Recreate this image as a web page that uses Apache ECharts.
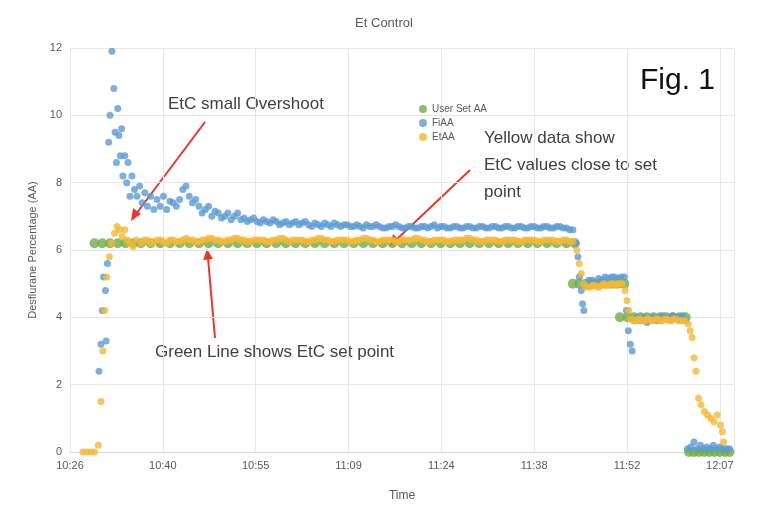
<!DOCTYPE html>
<html><head><meta charset="utf-8">
<script src="https://cdn.jsdelivr.net/npm/echarts@6/dist/echarts.min.js"></script>
<style>html,body{margin:0;background:#fff}#c{width:768px;height:524px}</style>
</head><body><div id="c"></div>
<script>
// x = minutes after 10:26
const START_MIN = 626;
const xTickStep = 14.4;
const yTicks = [0,2,4,6,8,10,12];
const userSetAA = [[3.8,6.2],[5,6.2],[6.2,6.2],[7.4,6.2],[8.6,6.2],[9.8,6.2],[11,6.2],[12.5,6.2],[14,6.2],[15.5,6.2],[17,6.2],[18.5,6.2],[20,6.2],[21.5,6.2],[23,6.2],[24.5,6.2],[26,6.2],[27.5,6.2],[29,6.2],[30.5,6.2],[32,6.2],[33.5,6.2],[35,6.2],[36.5,6.2],[38,6.2],[39.5,6.2],[41,6.2],[42.5,6.2],[44,6.2],[45.5,6.2],[47,6.2],[48.5,6.2],[50,6.2],[51.5,6.2],[53,6.2],[54.5,6.2],[56,6.2],[57.5,6.2],[59,6.2],[60.5,6.2],[62,6.2],[63.5,6.2],[65,6.2],[66.5,6.2],[68,6.2],[69.5,6.2],[71,6.2],[72.5,6.2],[74,6.2],[75.5,6.2],[77,6.2],[78.3,6.2],
 [78,5.0],[79,5.0],[80,5.0],[81,5.0],[82,5.0],[83,5.0],[84,5.0],[85,5.0],[86,5.0],
 [85.3,4.0],[86.5,4.0],[87.5,4.0],[88.5,4.0],[89.5,4.0],[90.5,4.0],[91.5,4.0],[92.5,4.0],[93.5,4.0],[94.5,4.0],[95.5,4.0],
 [96,0],[96.8,0],[97.6,0],[98.4,0],[99.2,0],[100,0],[100.8,0],[101.6,0],[102.3,0]];
const fiAA = [[4.5,2.4],[4.8,3.2],[5,4.2],[5.2,5.2],[5.5,4.8],[5.8,5.6],[5.6,3.3],[6,9.2],[6.2,10],[6.5,11.9],[6.8,10.8],[7,9.5],[7.2,8.6],[7.4,10.2],[7.6,9.4],[7.8,8.8],[8,9.6],[8.2,8.2],[8.5,8.8],[8.8,8.0],[9,8.6],[9.3,7.6],[9.6,8.2],[10,7.8],[10.4,7.6],[10.8,7.9],[11.2,7.4],[11.6,7.7],[12,7.3],[12.5,7.6],[13,7.2],[13.5,7.5],[14,7.3],[14.5,7.6],[15,7.2],[15.5,7.45],[16,7.4],[16.5,7.3],[17,7.5],[17.5,7.8],[18,7.9],[18.5,7.6],[19,7.4],[19.5,7.5],[20,7.3],[20.5,7.1],[21,7.2],[21.5,7.3],[22,7.0],[22.5,7.15],[23,7.1],[23.5,6.95],[24,7.0],[24.5,7.1],[25,6.9],[25.5,7.0],[26,7.1],[26.5,6.9],[27,6.95],[27.5,6.85],[28,6.9],[28.5,6.95],[29,6.85],[29.5,6.8],[30,6.9],[30.5,6.85],[31,6.8],[31.5,6.9],[32,6.85],[32.5,6.75],[33,6.8],[33.5,6.85],[34,6.75],[34.5,6.8],[35,6.85],[35.5,6.75],[36,6.8],[36.5,6.85],[37,6.75],[37.5,6.7],[38,6.8],[38.5,6.75],[39,6.7],[39.5,6.8],[40,6.75],[40.5,6.7],[41,6.8],[41.5,6.75],[42,6.7],[42.5,6.75],[43,6.75],[43.5,6.7],[44,6.7],[44.5,6.75],[45,6.7],[45.5,6.65],[46,6.75],[46.5,6.7],[47,6.7],[47.5,6.75],[48,6.7],[48.5,6.65],[49,6.65],[49.5,6.7],[50,6.7],[50.5,6.75],[51,6.7],[51.5,6.65],[52,6.65],[52.5,6.7],[53,6.7],[53.5,6.65],[54,6.65],[54.5,6.7],[55,6.7],[55.5,6.65],[56,6.7],[56.5,6.75],[57,6.65],[57.5,6.7],[58,6.7],[58.5,6.65],[59,6.65],[59.5,6.7],[60,6.7],[60.5,6.65],[61,6.65],[61.5,6.7],[62,6.7],[62.5,6.65],[63,6.65],[63.5,6.7],[64,6.7],[64.5,6.65],[65,6.65],[65.5,6.7],[66,6.7],[66.5,6.65],[67,6.65],[67.5,6.7],[68,6.7],[68.5,6.65],[69,6.65],[69.5,6.7],[70,6.7],[70.5,6.65],[71,6.65],[71.5,6.7],[72,6.7],[72.5,6.65],[73,6.65],[73.5,6.7],[74,6.7],[74.5,6.65],[75,6.65],[75.5,6.7],[76,6.7],[76.5,6.65],[77,6.65],[77.5,6.6],[78,6.6],
 [78.5,6.2],[78.8,5.8],[79,5.2],[79.3,4.8],[79.5,4.4],[79.7,4.2],[80,5.0],[80.5,5.1],[81,5.1],[81.5,5.05],[82,5.15],[82.5,5.1],[83,5.2],[83.5,5.15],[84,5.2],[84.5,5.2],[85,5.15],[85.5,5.2],[86,5.2],
 [86.3,4.2],[86.6,3.6],[86.9,3.2],[87.2,3.0],[87.5,3.9],[88,4.0],[88.5,3.9],[89,4.0],[89.5,3.85],[90,3.95],[90.5,4.0],[91,3.9],[91.5,4.0],[92,4.05],[92.5,3.95],[93,4.0],[93.5,4.05],[94,4.0],[94.5,4.0],[95,4.05],[95.5,3.9],
 [95.8,0.1],[96.3,0.15],[96.8,0.3],[97.3,0.1],[97.8,0.2],[98.3,0.1],[98.8,0.15],[99.3,0.1],[99.8,0.2],[100.3,0.1],[100.8,0.15],[101.3,0.1],[101.8,0.1],[102.3,0.1]];
const etAA = [[2,0],[2.6,0],[3.2,0],[3.8,0],[4.4,0.2],[4.8,1.5],[5.1,3],[5.4,4.2],[5.7,5.2],[6.1,5.8],[6.5,6.2],[6.9,6.5],[7.3,6.7],[7.7,6.6],[8.1,6.4],[8.5,6.6],[8.9,6.3],[9.3,6.2],[9.8,6.1],[10.3,6.3],[11,6.2],[11.5,6.3],[12,6.3],[12.5,6.2],[13,6.25],[13.5,6.3],[14,6.3],[14.5,6.25],[15,6.2],[15.5,6.3],[16,6.3],[16.5,6.25],[17,6.25],[17.5,6.3],[18,6.35],[18.5,6.3],[19,6.3],[19.5,6.25],[20,6.25],[20.5,6.3],[21,6.3],[21.5,6.35],[22,6.35],[22.5,6.3],[23,6.3],[23.5,6.25],[24,6.25],[24.5,6.3],[25,6.3],[25.5,6.35],[26,6.35],[26.5,6.3],[27,6.3],[27.5,6.25],[28,6.25],[28.5,6.3],[29,6.3],[29.5,6.3],[30,6.3],[30.5,6.25],[31,6.25],[31.5,6.3],[32,6.3],[32.5,6.35],[33,6.35],[33.5,6.3],[34,6.25],[34.5,6.3],[35,6.3],[35.5,6.3],[36,6.3],[36.5,6.25],[37,6.25],[37.5,6.3],[38,6.3],[38.5,6.35],[39,6.35],[39.5,6.3],[40,6.3],[40.5,6.25],[41,6.25],[41.5,6.3],[42,6.3],[42.5,6.3],[43,6.3],[43.5,6.25],[44,6.25],[44.5,6.3],[45,6.3],[45.5,6.35],[46,6.35],[46.5,6.3],[47,6.3],[47.5,6.25],[48,6.25],[48.5,6.3],[49,6.3],[49.5,6.3],[50,6.3],[50.5,6.25],[51,6.25],[51.5,6.3],[52,6.3],[52.5,6.3],[53,6.3],[53.5,6.35],[54,6.35],[54.5,6.3],[55,6.3],[55.5,6.25],[56,6.25],[56.5,6.3],[57,6.3],[57.5,6.3],[58,6.3],[58.5,6.25],[59,6.25],[59.5,6.3],[60,6.3],[60.5,6.3],[61,6.3],[61.5,6.35],[62,6.35],[62.5,6.3],[63,6.3],[63.5,6.25],[64,6.25],[64.5,6.3],[65,6.3],[65.5,6.3],[66,6.3],[66.5,6.25],[67,6.25],[67.5,6.3],[68,6.3],[68.5,6.3],[69,6.3],[69.5,6.25],[70,6.25],[70.5,6.3],[71,6.3],[71.5,6.3],[72,6.3],[72.5,6.25],[73,6.25],[73.5,6.3],[74,6.3],[74.5,6.3],[75,6.3],[75.5,6.25],[76,6.25],[76.5,6.3],[77,6.3],[77.5,6.25],[78,6.25],
 [78.6,6.0],[79,5.6],[79.3,5.3],[79.7,5.0],[80,4.9],[80.4,4.9],[80.7,4.9],[81.1,4.95],[81.4,4.95],[81.8,4.9],[82.1,4.9],[82.5,4.95],[82.8,5.0],[83.2,4.95],[83.5,4.95],[83.9,5.0],[84.2,5.0],[84.6,4.95],[84.9,5.0],[85.3,5.0],[85.6,5.0],[86.1,4.8],[86.4,4.5],[86.7,4.2],[87,3.95],[87.4,3.9],[87.7,3.9],[88.1,3.95],[88.4,3.95],[88.8,3.9],[89.1,3.9],[89.5,3.95],[89.8,3.95],[90.2,3.9],[90.5,3.9],[90.9,3.95],[91.2,3.95],[91.6,3.9],[91.9,3.9],[92.3,3.95],[92.6,3.95],[93,3.9],[93.3,3.9],[93.7,3.95],[94,3.95],[94.4,3.9],[94.7,3.9],[95.1,3.9],[95.4,3.9],[95.9,3.8],
 [96.2,3.6],[96.5,3.4],[96.8,2.8],[97.1,2.4],[97.5,1.6],[97.9,1.4],[98.4,1.2],[98.9,1.1],[99.4,1.0],[99.9,0.9],[100.4,1.1],[100.9,0.8],[101.2,0.6],[101.4,0.3]];

const fmt = v => { const m = Math.round(START_MIN + v); return Math.floor(m/60) + ':' + String(m%60).padStart(2,'0'); };
const chart = echarts.init(document.getElementById('c'));
const txt = {fill:'#404040', fontFamily:'Liberation Sans', fontSize:17};
chart.setOption({
  backgroundColor:'#fff',
  title:{text:'Et Control', left:'center', top:12, textStyle:{fontSize:13, fontWeight:'normal', color:'#595959', fontFamily:'Liberation Sans'}},
  legend:{orient:'vertical', left:414, top:99, itemWidth:8, itemHeight:8, itemGap:4,
    textStyle:{fontSize:10, color:'#595959'}, data:['User Set AA','FiAA','EtAA']},
  grid:{left:70, right:34, top:48, bottom:72},
  xAxis:{type:'value', min:0, max:103, interval:xTickStep, name:'Time', nameLocation:'middle', nameGap:38,
    nameTextStyle:{color:'#595959', fontSize:12},
    axisLabel:{formatter:fmt, color:'#595959', fontSize:11, showMaxLabel:false},
    axisLine:{lineStyle:{color:'#d9d9d9'}}, axisTick:{show:false},
    splitLine:{show:true, lineStyle:{color:'#e6e6e6'}}},
  yAxis:{type:'value', min:yTicks[0], max:yTicks[yTicks.length-1], interval:2, name:'Desflurane Percentage (AA)',
    nameLocation:'middle', nameGap:28, nameTextStyle:{color:'#595959', fontSize:11},
    axisLabel:{color:'#595959', fontSize:11}, axisLine:{show:false}, axisTick:{show:false},
    splitLine:{lineStyle:{color:'#e6e6e6'}}},
  series:[
    {name:'User Set AA', type:'scatter', data:userSetAA, symbolSize:10, itemStyle:{color:'#70AD47'}},
    {name:'FiAA', type:'scatter', data:fiAA, symbolSize:7, itemStyle:{color:'#5B9BD5'}},
    {name:'EtAA', type:'scatter', data:etAA, symbolSize:7, itemStyle:{color:'#F5B833'}}
  ],
  graphic:[
    {type:'text', left:640, top:66, style:{text:'Fig. 1', fill:'#111', fontSize:30, fontFamily:'Liberation Sans'}},
    {type:'text', left:168, top:96, style:Object.assign({text:'EtC small Overshoot'}, txt)},
    {type:'text', left:484, top:125, style:Object.assign({text:'Yellow data show\nEtC values close to set\npoint', lineHeight:27}, txt)},
    {type:'text', left:155, top:344, style:Object.assign({text:'Green Line shows EtC set point'}, txt)},
    {type:'line', shape:{x1:205,y1:122,x2:136,y2:214}, style:{stroke:'#e8372d', lineWidth:2}},
    {type:'polygon', shape:{points:[[131,221],[133,208],[141,214]]}, style:{fill:'#e8372d'}},
    {type:'line', shape:{x1:470,y1:170,x2:396,y2:240}, style:{stroke:'#e8372d', lineWidth:2}},
    {type:'polygon', shape:{points:[[390,246],[393,234],[401,242]]}, style:{fill:'#e8372d'}},
    {type:'line', shape:{x1:215,y1:338,x2:208,y2:258}, style:{stroke:'#e8372d', lineWidth:2}},
    {type:'polygon', shape:{points:[[207,249],[203,260],[213,259]]}, style:{fill:'#e8372d'}}
  ]
});
</script></body></html>
